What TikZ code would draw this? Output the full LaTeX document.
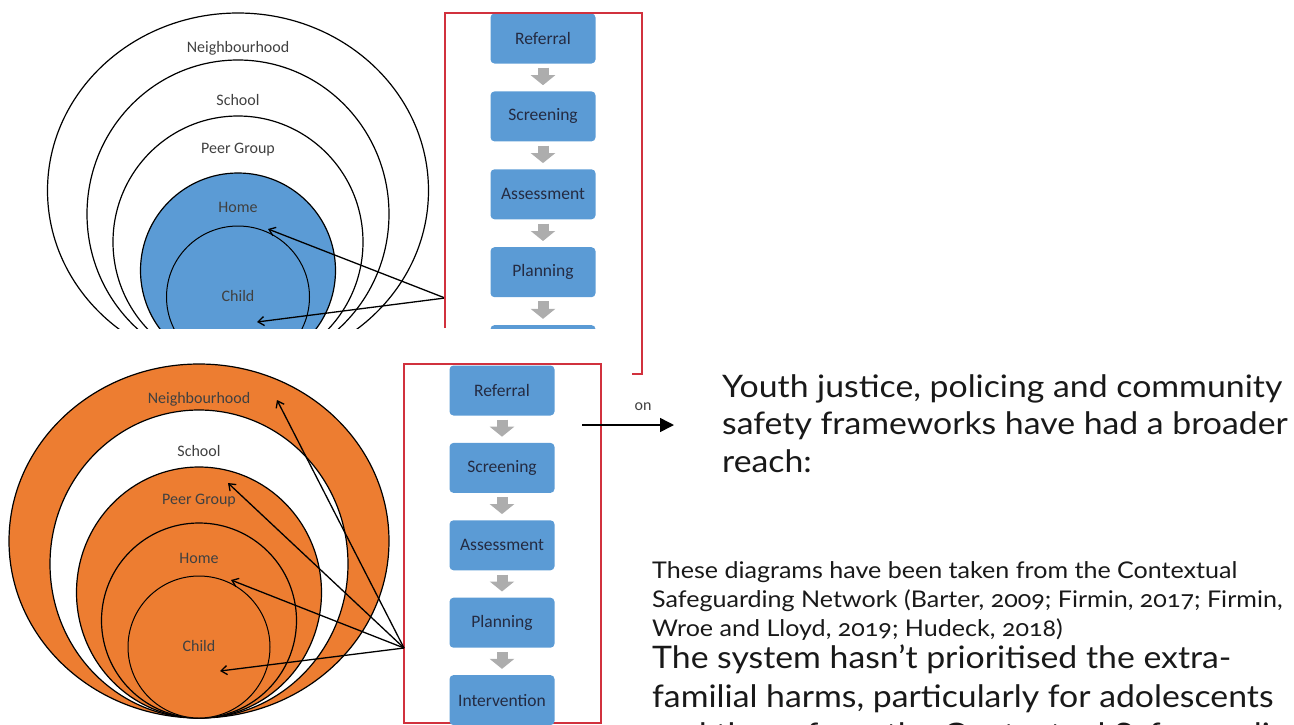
\documentclass[tikz,border=0pt]{standalone}
\usepackage{fontspec}
\usepackage{tikz}
\usepackage{xcolor}
\setmainfont{Carlito}
\newfontfamily\bodyfont[Numbers=OldStyle, FakeStretch=1.09]{Lato}
\definecolor{maincolor}{HTML}{5B9BD5}
\definecolor{orangecolor}{HTML}{ED7D31}
\definecolor{framecolor}{HTML}{D1313D}
\definecolor{boxtextcolor}{rgb}{0.14,0.17,0.26}
\colorlet{boxcolor}{maincolor}
\colorlet{arrowcolor}{black!32}
\colorlet{labelcolor}{black!75}
\colorlet{bodycolor}{black!90}
\usetikzlibrary{
  arrows.meta,
  positioning,
  shapes.geometric,
}

\begin{document}
\begin{tikzpicture}[x=1pt,y=-1pt]
	\tikzstyle{every node}=[font=\fontsize{16}{19}\selectfont, text=labelcolor]
	\tikzstyle{ring}=[draw, shape=ellipse, inner sep=0pt, line width=1.2pt]
	\tikzstyle{stepbox}=[fill=boxcolor, rounded corners=4pt, minimum width=105pt, minimum height=50pt, font=\fontsize{17.5}{20}\selectfont, text=boxtextcolor]
	\tikzstyle{flowarrow}=[draw=arrowcolor, line width=11pt, -{Triangle[length=10pt, width=24pt]}]
	\tikzstyle{pointer}=[-{Straight Barb[length=6pt, width=9pt]}, line width=1.3pt]
	\tikzstyle{frame}=[draw=framecolor, line width=1.2pt]
	\tikzstyle{bodytext}=[anchor=north west, align=left, inner sep=0pt, text=bodycolor]
	\clip (0,0) rectangle (1294,724);
	% upper picture (cut off at the bottom)
	\begin{scope}
	\clip (0,0) rectangle (632,328);
	% rings
	\node (nbhd1)[ring, minimum width=381pt, minimum height=355pt] at (238,190.5) {};
	\node (school1)[ring, minimum width=302pt, minimum height=308pt] at (238,214) {};
	\node (peer1)[ring, minimum width=250pt, minimum height=252pt] at (238,242) {};
	\node (home1)[ring, fill=maincolor, minimum width=195pt, minimum height=195pt] at (238,270.5) {};
	\node (child1)[ring, line width=1pt, fill=maincolor, minimum width=143pt, minimum height=142pt] at (238,297) {};
	\node (nbhdlabel1) at (238,48) {Neighbourhood};
	\node (schoollabel1) at (238,100) {School};
	\node (peerlabel1) at (238,150) {Peer Group};
	\node (homelabel1) at (238,207) {Home};
	\node (childlabel1) at (238,296) {Child};
	% steps
	\node (ref1)[stepbox] at (543,38.5) {Referral};
	\node (scr1)[stepbox, below=27.5pt of ref1] {Screening};
	\node (ass1)[stepbox, below=27.5pt of scr1] {Assessment};
	\node (pla1)[stepbox, below=27.5pt of ass1] {Planning};
	\node (int1)[stepbox, below=27.5pt of pla1] {};
	\draw [flowarrow] ([yshift=-4pt]ref1.south) -- ([yshift=6pt]scr1.north);
	\draw [flowarrow] ([yshift=-4pt]scr1.south) -- ([yshift=6pt]ass1.north);
	\draw [flowarrow] ([yshift=-4pt]ass1.south) -- ([yshift=6pt]pla1.north);
	\draw [flowarrow] ([yshift=-4pt]pla1.south) -- ([yshift=6pt]int1.north);
	% pointers
	\coordinate (src1) at (445,298);
	\coordinate (tiphome1) at (268,229);
	\coordinate (tipchild1) at (257,322);
	\draw [pointer] (src1) -- (tiphome1);
	\draw [pointer] (src1) -- (tipchild1);
	\end{scope}
	\draw [frame] (445,328) -- (445,13) -- (642,13) -- (642,374) -- (632,374);
	% lower picture
	\node (nbhd2)[ring, fill=orangecolor, minimum width=380pt, minimum height=354pt] at (199,541) {};
	\node (school2)[ring, fill=white, minimum width=298pt, minimum height=308pt] at (199,564) {};
	\node (peer2)[ring, fill=orangecolor, minimum width=245pt, minimum height=251pt] at (199,592.5) {};
	\node (home2)[ring, fill=orangecolor, minimum width=195pt, minimum height=195pt] at (199,620.5) {};
	\node (child2)[ring, line width=1pt, fill=orangecolor, minimum width=142pt, minimum height=142pt] at (199,647) {};
	\node (nbhdlabel2) at (199,399) {Neighbourhood};
	\node (schoollabel2) at (199,451) {School};
	\node (peerlabel2) at (199,501) {Peer Group};
	\node (homelabel2) at (199,558) {Home};
	\node (childlabel2) at (199,646) {Child};
	\draw [frame] (404,364) rectangle (601,723);
	\node (ref2)[stepbox] at (502,390.5) {Referral};
	\node (scr2)[stepbox, below=27pt of ref2] {Screening};
	\node (ass2)[stepbox, below=27pt of scr2] {Assessment};
	\node (pla2)[stepbox, below=27pt of ass2] {Planning};
	\node (int2)[stepbox, below=27pt of pla2] {Intervention};
	\draw [flowarrow] ([yshift=-4pt]ref2.south) -- ([yshift=6pt]scr2.north);
	\draw [flowarrow] ([yshift=-4pt]scr2.south) -- ([yshift=6pt]ass2.north);
	\draw [flowarrow] ([yshift=-4pt]ass2.south) -- ([yshift=6pt]pla2.north);
	\draw [flowarrow] ([yshift=-4pt]pla2.south) -- ([yshift=6pt]int2.north);
	\coordinate (src2) at (404,648);
	\coordinate (tipnbhd2) at (277,400);
	\coordinate (tippeer2) at (228,483);
	\coordinate (tiphome2) at (231,580);
	\coordinate (tipchild2) at (220,671);
	\draw [pointer] (src2) -- (tipnbhd2);
	\draw [pointer] (src2) -- (tippeer2);
	\draw [pointer] (src2) -- (tiphome2);
	\draw [pointer] (src2) -- (tipchild2);
	% arrow to the text
	\coordinate (arrowstart) at (582,425);
	\coordinate (arrowend) at (674,425);
	\draw [line width=1.5pt, -{Triangle[length=14pt, width=14pt]}] (arrowstart) -- (arrowend);
	\node (onlabel)[font=\fontsize{16}{18}\selectfont] at (643,407) {on};
	% text
	\node (reach)[bodytext, font=\bodyfont\fontsize{31}{37.5}\selectfont] at (722,374) {Youth justice, policing and community\\safety frameworks have had a broader\\reach:};
	\node (source)[bodytext, font=\bodyfont\fontsize{23}{29}\selectfont] at (652,561) {These diagrams have been taken from the Contextual\\Safeguarding Network (Barter, 2009; Firmin, 2017; Firmin,\\Wroe and Lloyd, 2019; Hudeck, 2018)};
	\node (system)[bodytext, font=\bodyfont\fontsize{31}{38.5}\selectfont] at (652,645) {The system hasn’t prioritised the extra-\\familial harms, particularly for adolescents\\and those from the Contextual Safeguarding};
\end{tikzpicture}
\end{document}
